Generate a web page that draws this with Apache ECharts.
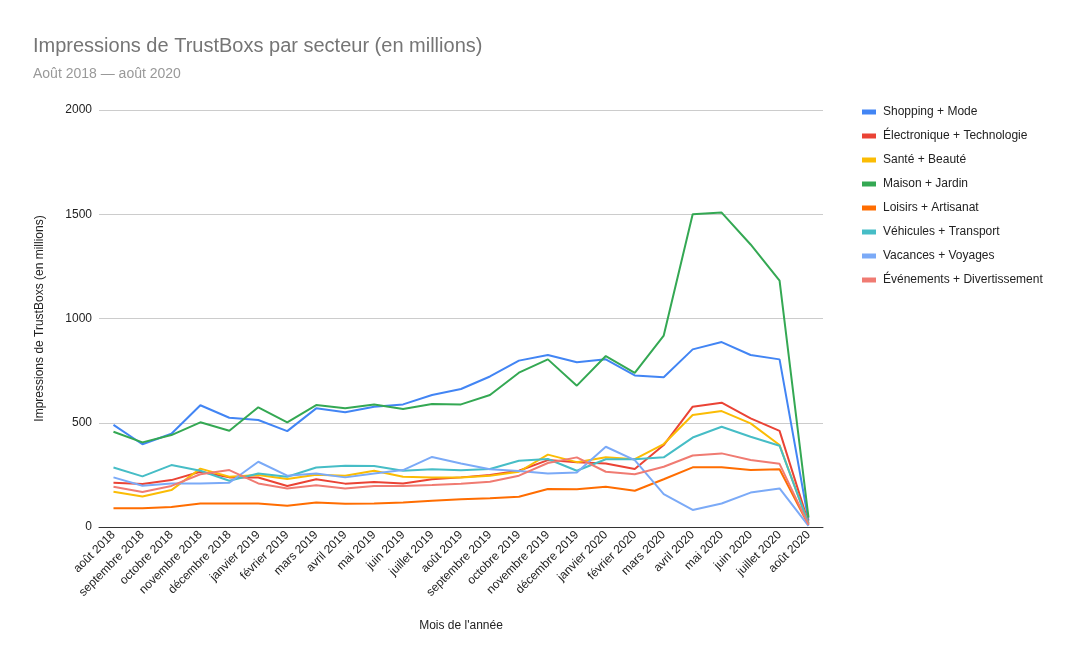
<!DOCTYPE html>
<html>
<head>
<meta charset="utf-8">
<script src="https://cdn.jsdelivr.net/npm/echarts@6/dist/echarts.min.js"></script>
<style>
  html, body { margin: 0; padding: 0; background: #fff; }
  #chart { width: 1078px; height: 666px; }
</style>
</head>
<body>
<div id="chart"></div>
<script>
const categories = ['août 2018','septembre 2018','octobre 2018','novembre 2018','décembre 2018','janvier 2019','février 2019','mars 2019','avril 2019','mai 2019','juin 2019','juillet 2019','août 2019','septembre 2019','octobre 2019','novembre 2019','décembre 2019','janvier 2020','février 2020','mars 2020','avril 2020','mai 2020','juin 2020','juillet 2020','août 2020'];

const shopping    = [490, 397, 447, 584, 524, 513, 460, 569, 550, 577, 588, 633, 662, 722, 798, 825, 790, 804, 727, 718, 852, 887, 825, 804, 30];
const electronique= [212, 206, 225, 265, 238, 237, 197, 229, 208, 216, 209, 229, 238, 249, 270, 321, 311, 305, 278, 393, 577, 596, 521, 461, 20];
const sante       = [169, 146, 177, 280, 241, 249, 230, 251, 246, 270, 241, 238, 238, 246, 265, 347, 311, 334, 325, 398, 537, 556, 497, 393, 15];
const maison      = [457, 406, 441, 502, 462, 574, 502, 585, 569, 588, 566, 590, 588, 633, 740, 804, 678, 820, 739, 918, 1500, 1508, 1355, 1182, 45];
const loisirs     = [90, 90, 96, 113, 113, 113, 102, 117, 112, 113, 118, 126, 133, 138, 145, 182, 181, 193, 174, 229, 286, 286, 273, 277, 10];
const vehicules   = [285, 243, 297, 270, 222, 257, 241, 285, 294, 293, 270, 277, 272, 278, 318, 326, 270, 325, 325, 334, 429, 481, 433, 390, 15];
const vacances    = [238, 198, 209, 209, 212, 313, 246, 257, 238, 257, 273, 336, 305, 277, 269, 257, 261, 385, 321, 158, 82, 113, 165, 185, 5];
const evenements  = [193, 168, 197, 253, 273, 209, 185, 200, 185, 197, 197, 201, 208, 217, 246, 307, 334, 265, 253, 289, 343, 353, 321, 303, 10];

const seriesNames = ['Shopping + Mode','Électronique + Technologie','Santé + Beauté','Maison + Jardin','Loisirs + Artisanat','Véhicules + Transport','Vacances + Voyages','Événements + Divertissement'];
const seriesData = [shopping, electronique, sante, maison, loisirs, vehicules, vacances, evenements];
const colors = ['#4285F4','#EA4335','#FBBC04','#34A853','#FF6D01','#46BDC6','#7BAAF7','#F07B72'];
const yTicks = [0, 500, 1000, 1500, 2000];

const font = '"Liberation Sans", Arial, sans-serif';
const chart = echarts.init(document.getElementById('chart'), null, {renderer: 'canvas'});
chart.setOption({
  animation: false,
  color: colors,
  textStyle: { fontFamily: font },
  title: [
    { text: 'Impressions de TrustBoxs par secteur (en millions)', left: 28, top: 31,
      textStyle: { fontSize: 20, fontWeight: 'normal', color: '#757575', fontFamily: font } },
    { text: 'Août 2018 — août 2020', left: 28, top: 62,
      textStyle: { fontSize: 14, fontWeight: 'normal', color: '#999999', fontFamily: font } }
  ],
  legend: {
    orient: 'vertical', left: 857, top: 101, icon: 'rect',
    itemWidth: 14, itemHeight: 5, itemGap: 12,
    textStyle: { fontSize: 12, color: '#222222', fontFamily: font, padding: [0, 0, 0, 2] },
    data: seriesNames
  },
  grid: { left: 99, right: 255, top: 110, bottom: 139, containLabel: false },
  xAxis: {
    type: 'category', data: categories, boundaryGap: true,
    name: "Mois de l'année", nameLocation: 'middle', nameGap: 93,
    nameTextStyle: { fontSize: 12, color: '#222222', fontFamily: font },
    axisLine: { show: true, lineStyle: { color: '#333333', width: 1 } },
    axisTick: { show: false },
    axisLabel: { rotate: 45, interval: 0, fontSize: 12, color: '#222222', margin: 6, fontFamily: font }
  },
  yAxis: {
    type: 'value', min: yTicks[0], max: yTicks[yTicks.length-1], interval: 500,
    name: 'Impressions de TrustBoxs (en millions)', nameLocation: 'middle', nameGap: 53,
    nameTextStyle: { fontSize: 12, color: '#222222', fontFamily: font },
    axisLine: { show: false }, axisTick: { show: false },
    axisLabel: { fontSize: 12, color: '#222222', margin: 7, fontFamily: font, formatter: v => String(v) },
    splitLine: { lineStyle: { color: '#cccccc', width: 1 } }
  },
  series: seriesNames.map((n, i) => ({
    name: n, type: 'line', data: seriesData[i], showSymbol: false, symbol: 'none',
    lineStyle: { width: 2, color: colors[i] }, itemStyle: { color: colors[i] }
  }))
});
</script>
</body>
</html>
